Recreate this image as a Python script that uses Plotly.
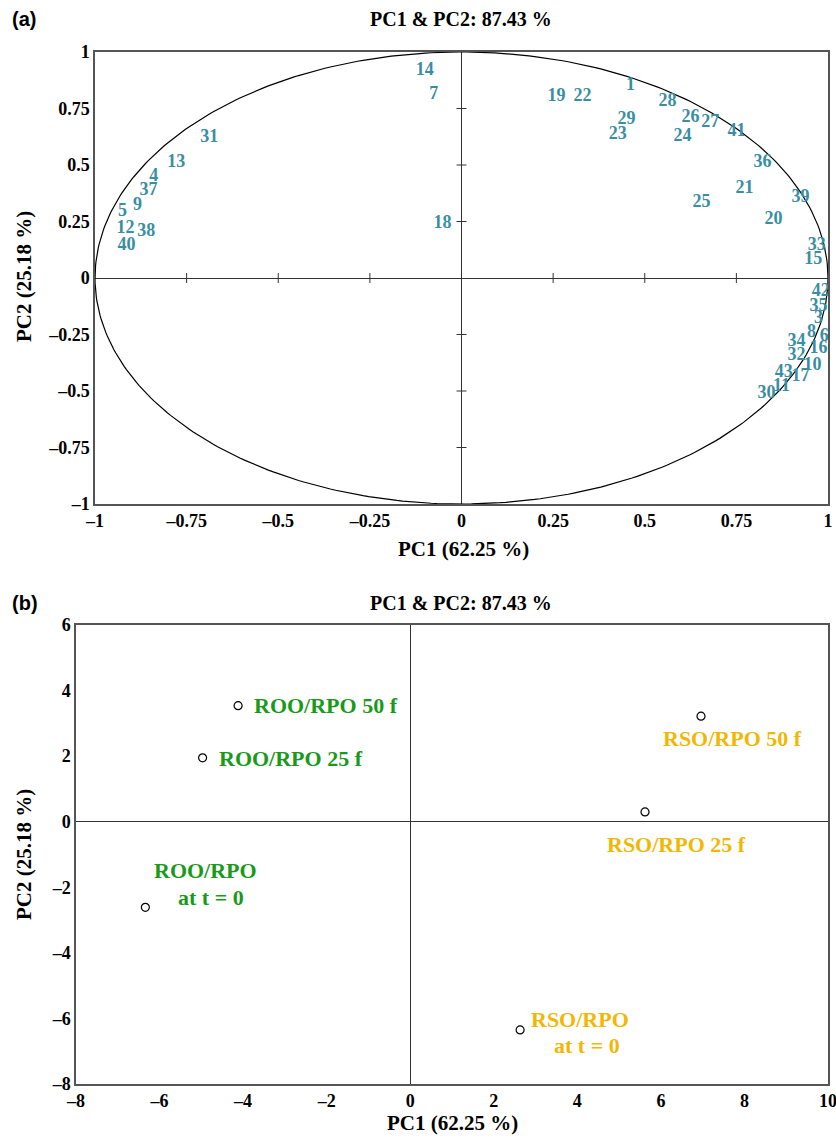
import numpy as np
import plotly.graph_objects as go

# ---------------- data ----------------
# (a) loadings plot: variable labels and their PC1/PC2 coordinates
var_labels = ["14", "7", "31", "13", "4", "37", "9", "5", "12", "38", "40", "18",
              "19", "22", "1", "28", "29", "23", "26", "27", "24", "41", "36", "21",
              "25", "39", "20", "33", "15",
              "42", "35", "3", "8", "6", "34", "16", "32", "10", "43", "17", "11", "30"]
var_pc1 = [-0.10, -0.076, -0.688, -0.778, -0.84, -0.854, -0.884, -0.925, -0.917, -0.86, -0.914, -0.052,
           0.259, 0.330, 0.461, 0.562, 0.450, 0.426, 0.625, 0.679, 0.603, 0.750, 0.821, 0.772,
           0.655, 0.925, 0.851, 0.969, 0.960,
           0.980, 0.974, 0.974, 0.955, 0.99, 0.914, 0.974, 0.914, 0.958, 0.879, 0.925, 0.873, 0.832]
var_pc2 = [0.916, 0.814, 0.62, 0.509, 0.45, 0.385, 0.323, 0.296, 0.217, 0.204, 0.146, 0.239,
           0.805, 0.805, 0.854, 0.779, 0.703, 0.633, 0.708, 0.69, 0.628, 0.650, 0.513, 0.394,
           0.336, 0.358, 0.261, 0.142, 0.08,
           -0.058, -0.124, -0.181, -0.239, -0.257, -0.279, -0.314, -0.345, -0.385, -0.420, -0.438, -0.478, -0.509]

# (b) scores plot
sample_names = ["ROO/RPO 50 f", "ROO/RPO 25 f", "ROO/RPO at t = 0",
                "RSO/RPO 50 f", "RSO/RPO 25 f", "RSO/RPO at t = 0"]
sample_pc1 = [-4.12, -4.97, -6.34, 6.96, 5.62, 2.63]
sample_pc2 = [3.54, 1.95, -2.61, 3.22, 0.30, -6.35]

ticks_a = [-1, -0.75, -0.5, -0.25, 0, 0.25, 0.5, 0.75, 1]
ticks_bx = [-8, -6, -4, -2, 0, 2, 4, 6, 8, 10]
ticks_by = [-8, -6, -4, -2, 0, 2, 4, 6]

title_text = "PC1 & PC2: 87.43 %"
xtitle = "PC1 (62.25 %)"
ytitle = "PC2 (25.18 %)"

# ---------------- style ----------------
W, H = 836, 1138
SERIF = "Liberation Serif, Times New Roman, serif"
SANS = "Liberation Sans, Arial, sans-serif"
TEAL = "#3a8ea2"
GREEN = "#1a9a1a"
GOLD = "#f2b705"
FRAME = "#555555"


def fx(px):
    return px / W


def fy(py):
    return 1 - py / H


def fmt(v):
    s = ("%g" % abs(v))
    return ("\u2013" + s) if v < 0 else s


fig = go.Figure()

# ----- panel (a) -----
theta = np.linspace(0, 2 * np.pi, 400)
fig.add_trace(go.Scatter(x=np.cos(theta), y=np.sin(theta), mode="lines",
                         line=dict(color="black", width=1.2), hoverinfo="skip",
                         xaxis="x", yaxis="y", showlegend=False))

# tick marks crossing the zero lines
inner = [t for t in ticks_a if t not in (-1, 0, 1)]
tx, ty = [], []
for t in inner:
    tx += [t, t, None]
    ty += [-0.022, 0.022, None]
for t in inner:
    tx += [-0.0136, 0.0136, None]
    ty += [t, t, None]
fig.add_trace(go.Scatter(x=tx, y=ty, mode="lines", line=dict(color="#333333", width=1),
                         hoverinfo="skip", xaxis="x", yaxis="y", showlegend=False))

fig.add_trace(go.Scatter(x=var_pc1, y=var_pc2, mode="text", text=var_labels,
                         textposition="middle center",
                         textfont=dict(family=SERIF, size=18, color=TEAL, weight="bold"),
                         xaxis="x", yaxis="y", showlegend=False))

# ----- panel (b) -----
fig.add_trace(go.Scatter(x=sample_pc1, y=sample_pc2, mode="markers",
                         marker=dict(symbol="circle-open", size=8, color="black",
                                     line=dict(width=1.2, color="black")),
                         xaxis="x2", yaxis="y2", showlegend=False))

common_axis = dict(showgrid=False, showline=True, mirror=True, linecolor=FRAME, linewidth=1.5,
                   zeroline=True, zerolinecolor="#333333", zerolinewidth=1.2, automargin=False,
                   ticklabeloverflow="allow",
                   ticks="", tickfont=dict(family=SERIF, size=18, color="black", weight="bold"))

fig.update_layout(
    width=W, height=H, autosize=False,
    margin=dict(l=0, r=0, t=0, b=0),
    paper_bgcolor="white", plot_bgcolor="white",
    xaxis=dict(domain=[fx(95), fx(828)], range=[-1, 1], anchor="y",
               tickvals=ticks_a, ticktext=[fmt(t) for t in ticks_a], **common_axis),
    yaxis=dict(domain=[fy(504), fy(52)], range=[-1, 1], anchor="x",
               tickvals=ticks_a, ticktext=[fmt(t) for t in ticks_a], **common_axis),
    xaxis2=dict(domain=[fx(76), fx(828)], range=[-8, 10], anchor="y2",
                tickvals=ticks_bx, ticktext=[fmt(t) for t in ticks_bx], **common_axis),
    yaxis2=dict(domain=[fy(1084), fy(625)], range=[-8, 6], anchor="x2",
                tickvals=ticks_by, ticktext=[fmt(t) for t in ticks_by], **common_axis),
)

anns = []
# panel letters and titles
anns.append(dict(text="<b>(a)</b>", x=fx(10), y=fy(19), xref="paper", yref="paper",
                 xanchor="left", yanchor="middle", showarrow=False,
                 font=dict(family=SANS, size=20, color="black")))
anns.append(dict(text="<b>(b)</b>", x=fx(10), y=fy(603), xref="paper", yref="paper",
                 xanchor="left", yanchor="middle", showarrow=False,
                 font=dict(family=SANS, size=20, color="black")))
for yy in (19, 603):
    anns.append(dict(text="<b>" + title_text + "</b>", x=fx(461), y=fy(yy), xref="paper", yref="paper",
                     xanchor="center", yanchor="middle", showarrow=False,
                     font=dict(family=SERIF, size=20, color="black")))
# axis titles
for cx, cy in ((463, 549), (452, 1123)):
    anns.append(dict(text="<b>" + xtitle + "</b>", x=fx(cx), y=fy(cy), xref="paper", yref="paper",
                     xanchor="center", yanchor="middle", showarrow=False,
                     font=dict(family=SERIF, size=21, color="black")))
for cx, cy in ((24, 277), (24, 855)):
    anns.append(dict(text="<b>" + ytitle + "</b>", x=fx(cx), y=fy(cy), xref="paper", yref="paper",
                     xanchor="center", yanchor="middle", showarrow=False, textangle=-90,
                     font=dict(family=SERIF, size=21, color="black")))

# sample labels (offsets in pixels relative to their points)
label_specs = [
    (0, "ROO/RPO 50 f", GREEN, 14, 0, "left"),
    (1, "ROO/RPO 25 f", GREEN, 14, -1, "left"),
    (2, "ROO/RPO", GREEN, 60, 37, "center"),
    (2, "at t = 0", GREEN, 66, 10, "center"),
    (3, "RSO/RPO 50 f", GOLD, 31, -22, "center"),
    (4, "RSO/RPO 25 f", GOLD, 31, -33, "center"),
    (5, "RSO/RPO", GOLD, 60, 10, "center"),
    (5, "at t = 0", GOLD, 67, -16, "center"),
]
for i, txt, col, dx, dy, xa in label_specs:
    anns.append(dict(text="<b>" + txt + "</b>", x=sample_pc1[i], y=sample_pc2[i],
                     xref="x2", yref="y2", xanchor=xa, yanchor="middle",
                     xshift=dx, yshift=dy, showarrow=False,
                     font=dict(family=SERIF, size=22, color=col)))

fig.update_layout(annotations=anns)
fig.write_html("out.html", config={"displayModeBar": False},
               post_script="document.documentElement.style.overflow='hidden';"
                           "document.body.style.margin='0';"
                           "document.body.style.overflow='hidden';")
